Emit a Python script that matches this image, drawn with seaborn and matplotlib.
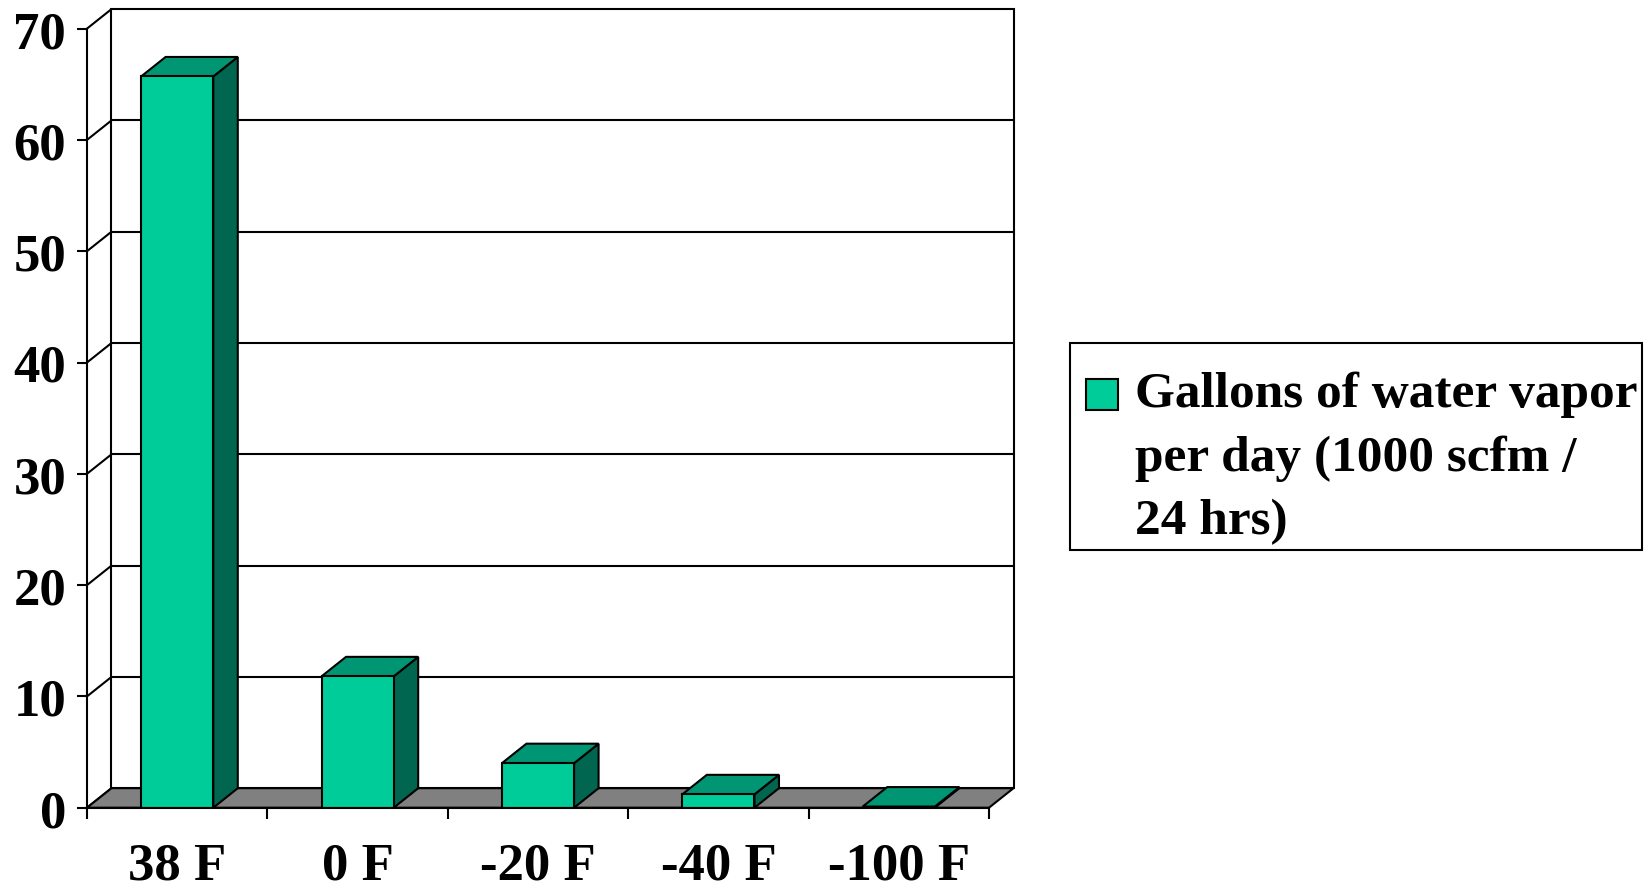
import matplotlib
matplotlib.use("Agg")
import matplotlib.pyplot as plt
import seaborn as sns
import pandas as pd
import numpy as np
from matplotlib.patches import Polygon, Rectangle
from matplotlib.lines import Line2D
from matplotlib.legend_handler import HandlerPatch

# ---- data ----
categories = ["38 F", "0 F", "-20 F", "-40 F", "-100 F"]
values = [65.7, 11.8, 4.0, 1.2, 0.1]
series_name = "Gallons of water vapor\nper day (1000 scfm /\n24 hrs)"
y_ticks = [0, 10, 20, 30, 40, 50, 60, 70]

FRONT = "#00CC99"
TOP = "#009673"
SIDE = "#006650"
FLOOR = "#808080"

sns.set_theme(style="ticks")
plt.rcParams["font.family"] = ["Liberation Serif", "DejaVu Serif"]
plt.rcParams["font.weight"] = "bold"
plt.rcParams["text.color"] = "black"
plt.rcParams["xtick.color"] = "black"
plt.rcParams["ytick.color"] = "black"

W, H = 1646, 887
fig = plt.figure(figsize=(W / 100, H / 100), dpi=100)
x_left, x_right, y_zero, y_top = 87, 989, 808.7, 29.6
ax = fig.add_axes([x_left / W, 1 - y_zero / H, (x_right - x_left) / W, (y_zero - y_top) / H])

df = pd.DataFrame({"cat": categories, "val": values})
sns.barplot(data=df, x="cat", y="val", color=FRONT, saturation=1, width=0.4,
            edgecolor="black", linewidth=1.5, label=series_name, ax=ax, zorder=5)
if ax.get_legend() is not None:
    ax.get_legend().remove()

n = len(categories)
ax.set_xlim(-0.5, n - 0.5)
ax.set_ylim(0, y_ticks[-1])

# depth offset in data units
px_per_x = (x_right - x_left) / n
px_per_y = (y_zero - y_top) / y_ticks[-1]
dx = 24.5 / px_per_x
dy = 19.5 / px_per_y
x0, x1 = -0.5, n - 0.5
ymax = y_ticks[-1]

# back wall
ax.add_patch(Rectangle((x0 + dx, dy), x1 - x0, ymax, facecolor="white", edgecolor="black",
                       lw=1.5, clip_on=False, zorder=0.5))
for t in y_ticks[1:-1]:
    ax.add_line(Line2D([x0 + dx, x1 + dx], [t + dy, t + dy], color="black", lw=1.5,
                       clip_on=False, zorder=0.6))
for t in y_ticks:
    ax.add_line(Line2D([x0, x0 + dx], [t, t + dy], color="black", lw=1.5,
                       clip_on=False, zorder=0.6))
# floor
ax.add_patch(Polygon([(x0, 0), (x1, 0), (x1 + dx, dy), (x0 + dx, dy)], closed=True,
                     facecolor=FLOOR, edgecolor="black", lw=1.5, clip_on=False, zorder=1))

# 3D faces of bars
for p in list(ax.patches):
    if p.get_zorder() != 5:
        continue
    bx, bw, bh = p.get_x(), p.get_width(), p.get_height()
    top = Polygon([(bx, bh), (bx + bw, bh), (bx + bw + dx, bh + dy), (bx + dx, bh + dy)],
                  closed=True, facecolor=TOP, edgecolor="black", lw=1.5, clip_on=False, zorder=4)
    side = Polygon([(bx + bw, 0), (bx + bw + dx, dy), (bx + bw + dx, bh + dy), (bx + bw, bh)],
                   closed=True, facecolor=SIDE, edgecolor="black", lw=1.5, clip_on=False, zorder=4)
    ax.add_patch(side)
    ax.add_patch(top)

# axes styling
for s in ["top", "right"]:
    ax.spines[s].set_visible(False)
for s in ["left", "bottom"]:
    ax.spines[s].set_linewidth(1.5)
    ax.spines[s].set_color("black")
    ax.spines[s].set_zorder(6)
ax.set_xlabel("")
ax.set_ylabel("")
ax.set_yticks(y_ticks)
ax.set_yticklabels([str(t) for t in y_ticks])
ax.set_xticks(range(n))
ax.set_xticklabels(categories)
ax.set_xticks(np.arange(-0.5, n, 1.0), minor=True)
ax.tick_params(axis="y", which="major", length=7, width=1.5, color="black", direction="out",
               pad=8, labelsize=38, left=True)
ax.tick_params(axis="x", which="major", length=0, pad=24, labelsize=38)
ax.tick_params(axis="x", which="minor", length=8, width=1.5, color="black", direction="out",
               bottom=True)
for lab in ax.get_xticklabels() + ax.get_yticklabels():
    lab.set_fontweight("bold")
    lab.set_color("black")
ax.patch.set_visible(False)


def top_square(legend, orig_handle, xdescent, ydescent, width, height, fontsize):
    s = 0.62 * fontsize
    return Rectangle((-xdescent + 0.22 * fontsize, height - ydescent - s + 0.0 * fontsize), s, s)


handle = Rectangle((0, 0), 1, 1, facecolor=FRONT, edgecolor="black", lw=1.5)
leg = fig.legend([handle], [series_name], loc="upper left",
                 bbox_to_anchor=(1070 / W, 1 - 344 / H),
                 title=" ", title_fontsize=13, labelspacing=0.1,
                 frameon=True, fancybox=False, edgecolor="black", framealpha=1,
                 borderpad=0.1, handletextpad=0.32, handlelength=0.84, handleheight=4.6,
                 borderaxespad=0, prop={"size": 37, "weight": "bold"},
                 handler_map={Rectangle: HandlerPatch(patch_func=top_square)})
leg.get_frame().set_linewidth(1.5)
for txt in leg.get_texts():
    txt.set_linespacing(1.49)
    txt.set_color("black")

fig.savefig("out.png", dpi=100)
